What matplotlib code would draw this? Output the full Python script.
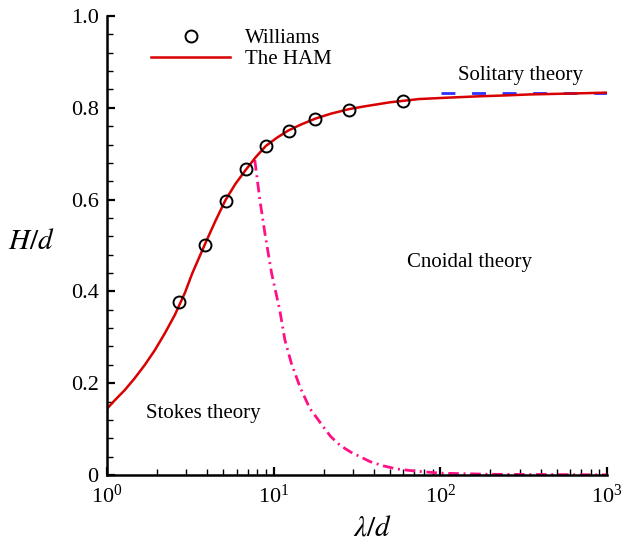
import numpy as np
import matplotlib
matplotlib.use("Agg")
import matplotlib.pyplot as plt
from matplotlib.ticker import MultipleLocator, LogLocator, NullFormatter

plt.rcParams['font.family'] = ['Liberation Serif', 'DejaVu Serif']
plt.rcParams['mathtext.fontset'] = 'stix'
plt.rcParams['font.size'] = 15

# Williams data (circles)
williams_x = [2.70, 3.87, 5.15, 6.82, 9.0, 12.3, 17.7, 28.3, 59.7]
williams_y = [0.376, 0.502, 0.598, 0.666, 0.717, 0.750, 0.775, 0.796, 0.815]

# HAM curve
ham_x = [1.0, 1.117, 1.28, 1.47, 1.69, 1.94, 2.23, 2.56, 2.94, 3.25, 3.90,
         4.5, 5.15, 5.9, 6.79, 7.8, 9.0, 10.5, 12.2, 14.5, 17.7, 22.0, 28.3,
         35.0, 42.7, 50.0, 59.6, 74.4, 110, 170, 250, 340, 600, 1000]
ham_y = [0.144, 0.163, 0.185, 0.211, 0.240, 0.272, 0.309, 0.349, 0.397, 0.439,
         0.505, 0.555, 0.599, 0.634, 0.664, 0.692, 0.717, 0.735, 0.750, 0.763,
         0.776, 0.787, 0.797, 0.803, 0.808, 0.812, 0.815, 0.819, 0.822, 0.825,
         0.827, 0.829, 0.831, 0.833]

# Stokes / cnoidal boundary (dash-dot)
bound_x = [7.72, 8.28, 8.87, 9.73, 10.9, 11.7, 12.8, 14.4, 16.5, 19.9, 22.0,
           25.0, 29.0, 33.0, 38.0, 45.4, 55.0, 68.8, 99.5, 200, 1000]
bound_y = [0.686, 0.599, 0.527, 0.440, 0.359, 0.294, 0.243, 0.192, 0.145,
           0.105, 0.084, 0.065, 0.050, 0.040, 0.029, 0.020, 0.013, 0.009,
           0.004, 0.0015, 0.0003]

# solitary limit
solitary_x = [101, 1000]
solitary_y = [0.833, 0.833]

fig = plt.figure(figsize=(6.25, 5.4), dpi=100)
ax = fig.add_axes([0.171, 0.1204, 0.8, 0.85])

ax.plot(bound_x, bound_y, color='#ff1087', lw=2.0, dashes=[3.8, 1.7, 0.7, 1.7])
ax.plot(solitary_x, solitary_y, color='#3030ff', lw=2.0, dashes=[5, 6])
ax.plot(ham_x, ham_y, color='#d80000', lw=1.8, label='The HAM')
ax.plot(williams_x, williams_y, 'o', mfc='none', mec='black', ms=8.6,
        mew=1.4, label='Williams')

ax.set_xscale('log')
ax.set_xlim(1, 1000)
ax.set_ylim(0, 1)

for s in ['top', 'right']:
    ax.spines[s].set_visible(False)
for s in ['left', 'bottom']:
    ax.spines[s].set_linewidth(1.8)

ax.yaxis.set_minor_locator(MultipleLocator(0.04))
ax.set_yticks([0, 0.2, 0.4, 0.6, 0.8, 1.0], ['0', '0.2', '0.4', '0.6', '0.8', '1.0'])
ax.xaxis.set_minor_locator(LogLocator(base=10, subs=np.arange(2, 10)))
ax.xaxis.set_minor_formatter(NullFormatter())
ax.tick_params(which='both', direction='in', top=False, right=False)
ax.tick_params(which='major', length=6, width=1.6, labelsize=16, pad=6)
ax.tick_params(axis='x', which='major', pad=7)
ax.tick_params(which='minor', length=4, width=1.0)

ax.set_xlabel(r'$\lambda/d$', fontsize=21)
ax.xaxis.set_label_coords(0.532, -0.088)
ax.set_ylabel(r'$H/d$', fontsize=21, rotation=0, va='center', ha='center')
ax.yaxis.set_label_coords(-0.152, 0.508)

ax.text(127, 0.871, 'Solitary theory', va='center', ha='left', fontsize=15)
ax.text(63, 0.462, 'Cnoidal theory', va='center', ha='left', fontsize=15)
ax.text(1.71, 0.133, 'Stokes theory', va='center', ha='left', fontsize=15)

h, l = ax.get_legend_handles_labels()
ax.legend(h[::-1], l[::-1], loc='upper left', bbox_to_anchor=(0.072, 0.99),
          frameon=False, handlelength=3.8, handletextpad=0.7,
          labelspacing=0.05, fontsize=15, borderaxespad=0)

fig.savefig('out.png', dpi=100)
